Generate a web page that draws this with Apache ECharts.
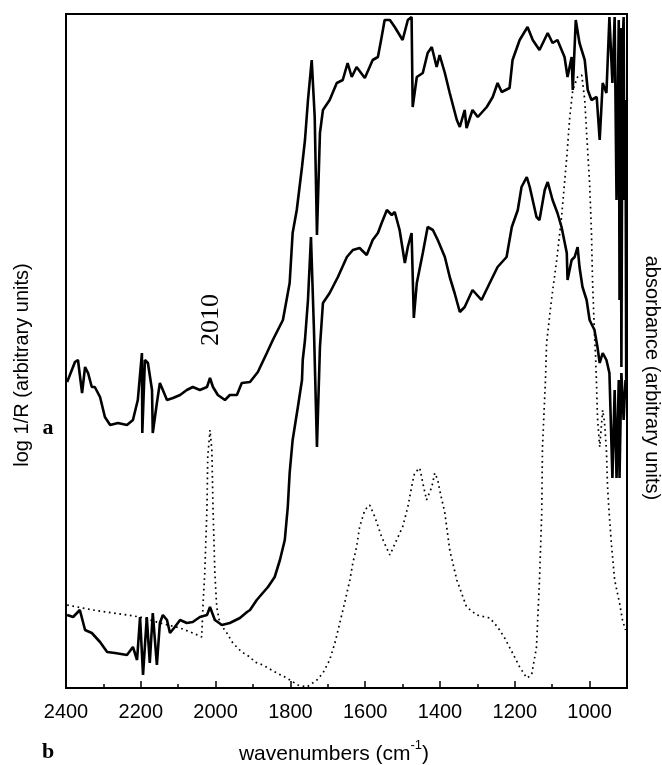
<!DOCTYPE html>
<html>
<head>
<meta charset="utf-8">
<script src="https://cdn.jsdelivr.net/npm/echarts@6/dist/echarts.min.js"></script>
<style>
html,body{margin:0;padding:0;background:#fff;}
#chart{width:662px;height:765px;}
</style>
</head>
<body>
<div id="chart"></div>
<script>
// wavenumber (cm-1) tick marks
const majorTicks = [2400, 2200, 2000, 1800, 1600, 1400, 1200, 1000];
const minorTicks = [2300, 2100, 1900, 1700, 1500, 1300, 1100];

// spectrum a: [wavenumber, log 1/R (arbitrary units)]
const spectrumA = [[2397,306],[2376,326],[2368,328],[2357,295],[2349,321],[2341,315],[2331,301],[2323,301],[2309,291],[2296,271],[2282,263],[2261,265],[2237,263],[2221,268],[2208,288],[2197,335],[2196,255],[2189,328],[2181,325],[2170,298],[2168,255],[2157,285],[2149,305],[2141,298],[2130,288],[2114,290],[2095,293],[2077,298],[2061,301],[2042,298],[2023,301],[2015,310],[2007,301],[1994,293],[1975,288],[1962,293],[1943,293],[1930,305],[1908,306],[1887,316],[1863,335],[1847,348],[1820,368],[1802,405],[1794,455],[1783,478],[1769,521],[1761,548],[1753,588],[1743,628],[1735,571],[1729,453],[1721,555],[1713,578],[1695,588],[1676,605],[1660,608],[1647,625],[1636,611],[1623,621],[1601,610],[1580,628],[1566,631],[1556,651],[1548,668],[1534,668],[1521,661],[1500,648],[1486,668],[1476,671],[1473,581],[1462,611],[1446,615],[1433,635],[1422,641],[1409,621],[1401,633],[1387,615],[1374,595],[1355,568],[1347,561],[1334,578],[1329,560],[1313,578],[1299,571],[1275,581],[1259,591],[1246,605],[1235,596],[1214,600],[1206,628],[1187,648],[1166,661],[1152,648],[1134,638],[1112,655],[1099,645],[1086,648],[1067,631],[1059,611],[1048,631],[1045,598],[1037,668],[1027,645],[1013,628],[1005,598],[995,588],[981,591],[973,548],[965,605],[955,595],[947,671],[939,605],[933,671],[928,488],[922,668],[920,388],[917,660],[915,321],[912,640],[909,671],[907,488],[904,588],[902,300]];

// spectrum b: [wavenumber, log 1/R (arbitrary units)]
const spectrumB = [[2397,73],[2381,71],[2363,78],[2349,58],[2331,55],[2309,46],[2290,36],[2269,35],[2237,33],[2221,41],[2210,28],[2202,71],[2194,13],[2184,71],[2176,25],[2168,75],[2157,23],[2149,65],[2141,73],[2130,68],[2122,55],[2109,61],[2095,68],[2077,65],[2061,66],[2042,71],[2023,73],[2015,81],[2002,68],[1983,63],[1962,65],[1935,70],[1916,76],[1908,78],[1890,88],[1874,95],[1860,101],[1842,111],[1828,128],[1815,148],[1807,181],[1802,215],[1794,248],[1780,281],[1769,308],[1767,328],[1761,348],[1753,388],[1745,451],[1737,358],[1729,241],[1721,341],[1713,385],[1695,395],[1673,411],[1649,431],[1633,438],[1615,440],[1596,433],[1580,448],[1566,455],[1556,465],[1542,478],[1529,473],[1521,476],[1508,458],[1494,425],[1486,441],[1476,455],[1470,370],[1462,405],[1446,435],[1433,461],[1419,458],[1406,448],[1387,431],[1374,411],[1361,395],[1347,376],[1334,381],[1313,398],[1289,388],[1267,405],[1246,421],[1222,431],[1208,461],[1192,478],[1182,501],[1168,511],[1160,501],[1142,471],[1134,468],[1120,498],[1112,506],[1099,488],[1086,475],[1075,461],[1061,435],[1059,408],[1048,428],[1040,431],[1032,441],[1027,421],[1019,401],[1008,388],[1000,368],[987,358],[979,341],[973,325],[965,335],[955,328],[947,315],[939,210],[933,298],[928,210],[922,308],[920,210],[915,315],[909,268],[904,308]];

// reference absorbance (dotted): [wavenumber, absorbance (arbitrary units)]
const absorbance = [[2397,83],[2328,78],[2237,73],[2202,71],[2149,65],[2095,60],[2061,55],[2037,51],[2034,81],[2029,115],[2023,181],[2021,231],[2015,258],[2010,238],[2007,181],[2002,115],[1997,81],[1989,65],[1970,55],[1954,45],[1930,36],[1908,31],[1895,26],[1874,23],[1836,15],[1810,10],[1780,3],[1756,1],[1729,8],[1713,15],[1695,28],[1681,45],[1668,65],[1655,85],[1641,108],[1633,125],[1623,141],[1615,161],[1601,178],[1588,183],[1574,171],[1556,151],[1534,133],[1516,148],[1500,161],[1486,181],[1476,201],[1468,215],[1454,220],[1446,205],[1436,188],[1422,201],[1414,215],[1406,208],[1401,198],[1387,175],[1374,138],[1355,108],[1329,81],[1302,73],[1267,70],[1246,61],[1227,50],[1206,35],[1187,21],[1168,10],[1155,13],[1142,41],[1134,108],[1128,175],[1126,241],[1118,308],[1115,345],[1102,388],[1088,428],[1075,471],[1061,531],[1053,571],[1045,598],[1032,611],[1021,613],[1013,588],[1008,555],[1000,505],[995,455],[992,405],[987,355],[984,331],[981,298],[979,271],[973,241],[965,278],[960,265],[955,238],[952,201],[947,171],[941,141],[933,108],[920,85],[912,68],[904,58]];

// peak annotation: [wavenumber, height, text]
const annotations = [[2013, 368, '2010']];

const chart = echarts.init(document.getElementById('chart'), null, {renderer: 'canvas'});
const SANS = '"Liberation Sans", Arial, sans-serif';
const SERIF = '"Liberation Serif", "Times New Roman", serif';

chart.setOption({
  animation: false,
  backgroundColor: '#fff',
  grid: {left: 66, right: 35, top: 14, bottom: 77, show: true, borderColor: '#000', borderWidth: 2, backgroundColor: 'transparent'},
  xAxis: [{
    type: 'value', min: 900, max: 2400, interval: 100, inverse: true, position: 'bottom',
    axisLine: {show: false}, splitLine: {show: false},
    axisTick: {inside: true, length: 7, customValues: majorTicks, lineStyle: {color: '#000', width: 1.5}},
    axisLabel: {customValues: majorTicks, formatter: v => String(v), color: '#000', fontSize: 20, fontFamily: SANS, margin: 14}
  }, {
    type: 'value', min: 900, max: 2400, interval: 100, inverse: true, position: 'bottom', offset: 0,
    axisLine: {show: false}, splitLine: {show: false},
    axisLabel: {show: false},
    axisTick: {inside: true, length: 4, customValues: minorTicks, lineStyle: {color: '#000', width: 1.5}}
  }],
  yAxis: {type: 'value', min: 0, max: 674, show: false},
  graphic: [
    {type: 'text', x: 22, y: 365, rotation: Math.PI / 2,
     style: {text: 'log 1/R (arbitrary units)', font: '20px ' + SANS, fill: '#000', align: 'center', verticalAlign: 'middle'}},
    {type: 'text', x: 652, y: 378, rotation: -Math.PI / 2,
     style: {text: 'absorbance (arbitrary units)', font: '20px ' + SANS, fill: '#000', align: 'center', verticalAlign: 'middle'}},
    {type: 'text', x: 48, y: 428,
     style: {text: 'a', font: 'bold 22px ' + SERIF, fill: '#000', align: 'center', verticalAlign: 'middle'}},
    {type: 'text', x: 48, y: 752,
     style: {text: 'b', font: 'bold 22px ' + SERIF, fill: '#000', align: 'center', verticalAlign: 'middle'}},
    {type: 'text', x: 334, y: 752,
     style: {
       text: '{n|wavenumbers (cm}{s|-1}{n|)}', fill: '#000', align: 'center', verticalAlign: 'middle',
       rich: {
         n: {fontSize: 21, fontFamily: SANS, lineHeight: 26, verticalAlign: 'bottom'},
         s: {fontSize: 13, fontFamily: SANS, lineHeight: 26, verticalAlign: 'top'}
       }
     }}
  ],
  series: [
    {type: 'line', data: spectrumA, xAxisIndex: 0, symbol: 'none', lineStyle: {color: '#000', width: 2.6}, silent: true},
    {type: 'line', data: spectrumB, xAxisIndex: 0, symbol: 'none', lineStyle: {color: '#000', width: 2.6}, silent: true},
    {type: 'line', data: absorbance, xAxisIndex: 0, symbol: 'none', lineStyle: {color: '#000', width: 1.7, type: [1.7, 3.6]}, silent: true},
    {type: 'scatter', data: annotations.map(a => [a[0], a[1], a[2]]), xAxisIndex: 0, symbolSize: 1,
     itemStyle: {color: 'rgba(0,0,0,0)'}, silent: true,
     label: {show: true, position: 'inside', rotate: 90, formatter: p => p.data[2],
             fontFamily: SERIF, fontSize: 26, color: '#000', textBorderWidth: 0, opacity: 1}}
  ]
});
</script>
</body>
</html>
